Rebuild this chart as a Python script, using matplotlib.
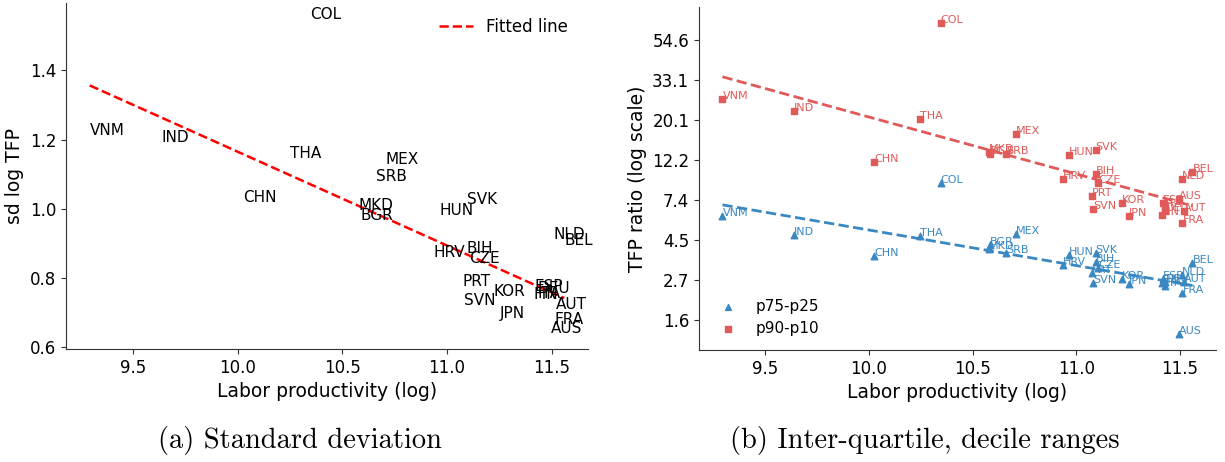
import numpy as np
import matplotlib
matplotlib.use("Agg")
import matplotlib.pyplot as plt

# country codes and log labor productivity (shared x)
countries = ["VNM", "IND", "THA", "COL", "CHN", "MKD", "BGR", "SRB", "MEX",
             "HUN", "SVK", "HRV", "BIH", "CZE", "PRT", "SVN", "KOR", "JPN",
             "AUS", "NLD", "BEL", "AUT", "FRA", "ESP", "ITA", "DEU", "FIN"]
labor_prod = [9.293, 9.637, 10.248, 10.345, 10.025, 10.578, 10.585, 10.66, 10.707,
              10.964, 11.093, 10.937, 11.094, 11.106, 11.076, 11.082, 11.22, 11.254,
              11.494, 11.508, 11.56, 11.52, 11.512, 11.418, 11.43, 11.43, 11.413]

# panel (a): sd of log TFP
sd_log_tfp = [1.212, 1.192, 1.146, 1.55, 1.019, 0.997, 0.966, 1.079, 1.13,
              0.982, 1.012, 0.859, 0.872, 0.843, 0.777, 0.721, 0.746, 0.682,
              0.639, 0.912, 0.896, 0.709, 0.666, 0.76, 0.742, 0.755, 0.738]

# panel (b): log of TFP ratios
log_p90_p10 = [3.26, 3.11, 3.016, 4.216, 2.479, 2.604, 2.579, 2.575, 2.829,
               2.558, 2.621, 2.266, 2.329, 2.216, 2.05, 1.884, 1.959, 1.804,
               2.01, 2.26, 2.35, 1.862, 1.709, 1.966, 1.916, 1.862, 1.81]
log_p75_p25 = [1.80, 1.5625, 1.55, 2.216, 1.304, 1.384, 1.4375, 1.333, 1.571,
               1.3125, 1.341, 1.1875, 1.229, 1.154, 1.084, 0.966, 1.0125, 0.95,
               0.321, 1.0625, 1.21, 0.979, 0.833, 1.02, 0.93, 0.98, 0.97]
log_ticks = [0.5, 1.0, 1.5, 2.0, 2.5, 3.0, 3.5, 4.0]

red = "#e05a5a"
blue = "#3a88c2"

x = np.array(labor_prod)
xs = np.array([x.min(), x.max()])

fig = plt.figure(figsize=(12.25, 4.62), dpi=100)
ax1 = fig.add_axes([0.0539, 0.2446, 0.4261, 0.749])
ax2 = fig.add_axes([0.5706, 0.2424, 0.422, 0.742])

# (a) standard deviation
y1 = np.array(sd_log_tfp)
ax1.scatter(x, y1, s=0)
for c, xi, yi in zip(countries, x, y1):
    ax1.text(xi, yi, c, fontsize=11, color="black")
b1 = np.polyfit(x, y1, 1)
ax1.plot(xs, np.polyval(b1, xs), "--", color="red", lw=1.8, label="Fitted line")
ax1.set_xlabel("Labor productivity (log)", fontsize=13.5)
ax1.set_ylabel("sd log TFP", fontsize=13.5)
ax1.legend(loc="upper right", frameon=False, fontsize=12, bbox_to_anchor=(0.99, 1.0))

# (b) inter-quartile and decile ranges
y_iqr = np.array(log_p75_p25)
y_dec = np.array(log_p90_p10)
ax2.scatter(x, y_iqr, marker="^", s=22, color=blue, label="p75-p25")
ax2.scatter(x, y_dec, marker="s", s=22, color=red, label="p90-p10")
for c, xi, yi in zip(countries, x, y_iqr):
    ax2.text(xi, yi, c, fontsize=8, color=blue)
for c, xi, yi in zip(countries, x, y_dec):
    ax2.text(xi, yi, c, fontsize=8, color=red)
b_iqr = np.polyfit(x, y_iqr, 1)
b_dec = np.polyfit(x, y_dec, 1)
ax2.plot(xs, np.polyval(b_iqr, xs), "--", color=blue, lw=2)
ax2.plot(xs, np.polyval(b_dec, xs), "--", color=red, lw=2)
ax2.set_yticks(log_ticks)
ax2.set_yticklabels([f"{np.exp(v):.1f}" for v in log_ticks])
ax2.set_xlabel("Labor productivity (log)", fontsize=13.5)
ax2.set_ylabel("TFP ratio (log scale)", fontsize=13.5)
ax2.legend(loc="lower left", frameon=False, fontsize=11, markerscale=0.9)

for ax in (ax1, ax2):
    ax.spines["top"].set_visible(False)
    ax.spines["right"].set_visible(False)
    for s in ("left", "bottom"):
        ax.spines[s].set_color("0.2")
    ax.tick_params(labelsize=12, color="0.2")
    ax.set_xticks([9.5, 10.0, 10.5, 11.0, 11.5])

fig.text(0.245, 0.03, "(a) Standard deviation", family="cmr10", fontsize=20.5, ha="center")
fig.text(0.755, 0.03, "(b) Inter-quartile, decile ranges", family="cmr10", fontsize=20.5, ha="center")

fig.savefig("out.png", dpi=100)
